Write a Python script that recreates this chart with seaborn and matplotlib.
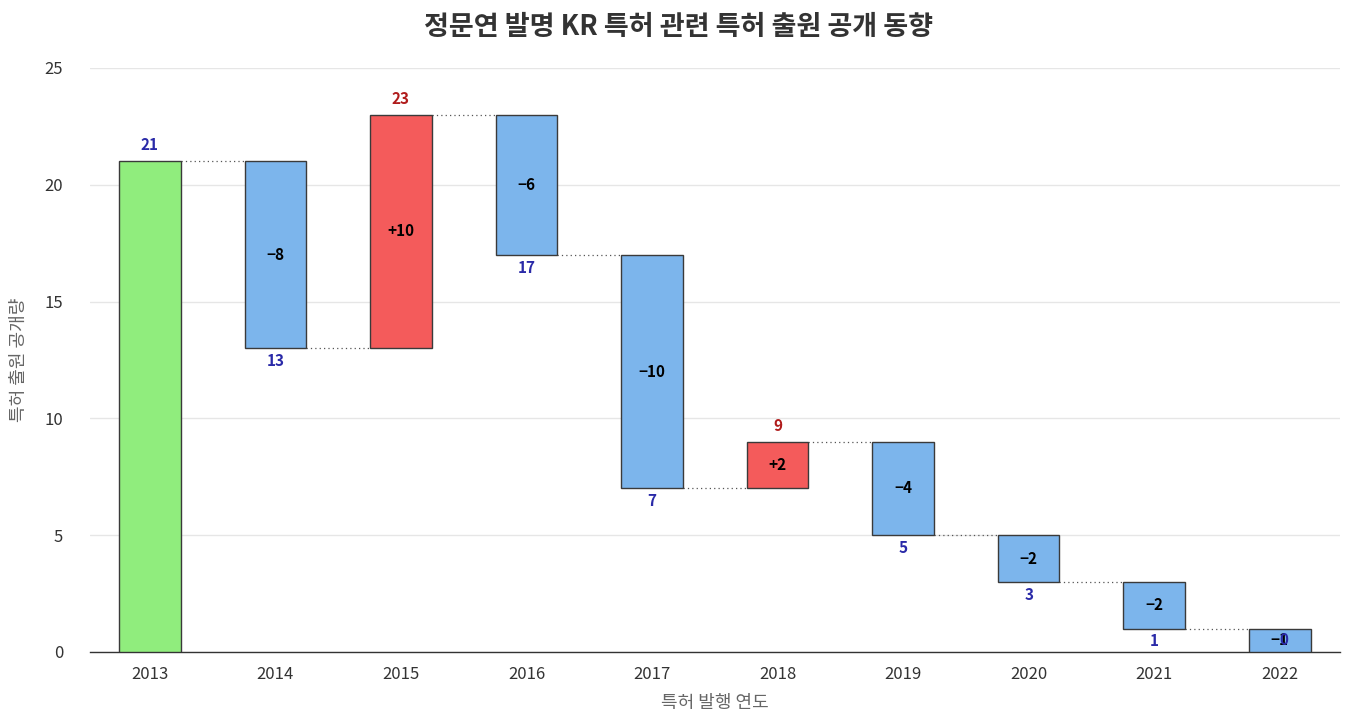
import numpy as np
import pandas as pd
import matplotlib.pyplot as plt
import seaborn as sns

years = ["2013", "2014", "2015", "2016", "2017", "2018", "2019", "2020", "2021", "2022"]
changes = [21, -8, 10, -6, -10, 2, -4, -2, -2, -1]

sns.set_theme(style="white")
plt.rcParams['font.family'] = ['Noto Sans CJK KR', 'DejaVu Sans']
plt.rcParams['axes.unicode_minus'] = True

totals = np.cumsum(changes)
starts = np.concatenate([[0], totals[:-1]])
bottoms = np.minimum(starts, totals)
heights = np.abs(np.array(changes))
kind = ["total"] + ["up" if c > 0 else "down" for c in changes[1:]]

df = pd.DataFrame({"year": years, "height": heights, "bottom": bottoms, "kind": kind})
palette = {"total": "#90ed7d", "up": "#f45b5b", "down": "#7cb5ec"}

fig = plt.figure(figsize=(13.57, 7.27), dpi=100)
ax = fig.add_axes([0.066, 0.1032, 0.9215, 0.8033])

sns.barplot(data=df, x="year", y="height", bottom=df["bottom"].to_numpy(), width=0.49,
            color="#7cb5ec", saturation=1, edgecolor="#3a3a3a", linewidth=1, ax=ax, zorder=3)
for patch, k in zip(ax.patches, df["kind"]):
    patch.set_facecolor(palette[k])

ax.set_xlim(-0.48, 9.48)
ax.set_ylim(0, 25)
ax.set_yticks([0, 5, 10, 15, 20, 25])
ax.yaxis.grid(True, color="#e6e6e6", linewidth=1)
ax.set_axisbelow(True)
for s in ["top", "right", "left"]:
    ax.spines[s].set_visible(False)
ax.spines["bottom"].set_color("#333333")
ax.spines["bottom"].set_linewidth(1)
ax.tick_params(axis="both", length=0, labelsize=12, labelcolor="#333333")
ax.tick_params(axis="y", pad=19)
ax.tick_params(axis="x", pad=10)

# connectors
hw = 0.245
for i in range(len(years) - 1):
    ax.plot([i + hw, i + 1 - hw], [totals[i], totals[i]], linestyle=(0, (1, 2.5)),
            color="#555555", linewidth=0.9, zorder=2)

blue_lab = "#2a2aa8"
red_lab = "#b01c1c"
for i, c in enumerate(changes):
    t = totals[i]
    if i == 0:
        ax.text(i, t + 0.35, str(t), ha="center", va="bottom", color=blue_lab,
                fontsize=11, fontweight="bold")
        continue
    mid = bottoms[i] + heights[i] / 2
    sign = "+" if c > 0 else "\u2212"
    ax.text(i, mid, f"{sign}{abs(c)}", ha="center", va="center", color="black",
            fontsize=11, fontweight="bold", zorder=5)
    if c > 0:
        ax.text(i, t + 0.35, str(t), ha="center", va="bottom", color=red_lab,
                fontsize=11, fontweight="bold")
    elif t > 0:
        ax.text(i, t - 0.2, str(t), ha="center", va="top", color=blue_lab,
                fontsize=11, fontweight="bold")
    else:
        ax.text(i + 0.03, mid, str(t), ha="center", va="center", color=blue_lab,
                fontsize=11, fontweight="bold", zorder=5)

ax.set_xlabel("특허 발행 연도", fontsize=13, color="#666666", labelpad=8)
ax.set_ylabel("특허 출원 공개량", fontsize=13, color="#666666", labelpad=12)
fig.suptitle("정문연 발명 KR 특허 관련 특허 출원 공개 동향", fontsize=19.5, fontweight="bold",
             color="#333333", y=0.982)

fig.savefig("out.png", dpi=100)
